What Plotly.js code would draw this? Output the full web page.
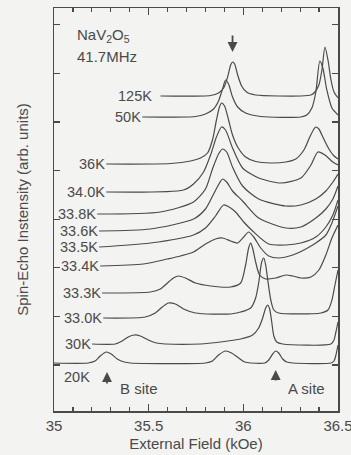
<!DOCTYPE html>
<html>
<head>
<meta charset="utf-8">
<script src="https://cdn.plot.ly/plotly-3.0.1.min.js"></script>
<style>
  html, body { margin: 0; padding: 0; background: #f3f3f1; }
  #chart { width: 351px; height: 455px; }
</style>
</head>
<body>
<div id="chart"></div>
<script>
// NaV2O5 spin-echo spectra at 41.7 MHz, stacked by temperature.
// Each spectrum: external field (kOe) and echo intensity (arb. units) above its own baseline.

const temps = ["125K", "50K", "36K", "34.0K", "33.8K", "33.6K", "33.5K", "33.4K", "33.3K", "33.0K", "30K", "20K"];

// vertical offsets of the baselines (arb. units)
const offsets = [315, 294, 247, 219, 197, 180, 164, 145, 118, 93, 67, 48];

const field125 = [35.562,35.827,35.869,35.896,35.917,35.933,35.943,35.954,35.970,35.991,36.017,36.065,36.304,36.357,36.378,36.399,36.415,36.431,36.447,36.463,36.479,36.500];
const sig125   = [0,0.5,3,8,19,31,34,32,21,10,4,1,0,1,4,11,26,49,36,16,4,-2];

const field50 = [35.466,35.747,35.800,35.843,35.869,35.890,35.906,35.922,35.943,35.970,36.012,36.092,36.304,36.335,36.362,36.383,36.404,36.420,36.441,36.468,36.500];
const sig50   = [0,0.5,3,8,16,28,37,33,20,10,4,0.5,0,2,9,25,56,49,27,9,2];

const field36 = [35.276,35.615,35.721,35.774,35.811,35.837,35.858,35.874,35.885,35.901,35.922,35.943,35.970,36.012,36.065,36.145,36.224,36.277,36.320,36.351,36.373,36.383,36.399,36.420,36.452,36.479,36.500];
const sig36   = [0,0.5,3,6,11,24,44,57,61,58,44,29,17,7,2.5,1,2,5,14,27,35,37,35,27,15,8,5];

const field340 = [35.276,35.684,35.737,35.790,35.827,35.858,35.885,35.906,35.943,35.996,36.081,36.198,36.304,36.357,36.394,36.431,36.473,36.500];
const sig340   = [0,2,8,20,37,55,65,62,44,24,14,9,14,27,40,37,30,27];

const field338 = [35.228,35.562,35.737,35.800,35.837,35.869,35.890,35.912,35.943,35.996,36.081,36.224,36.304,36.383,36.436,36.473,36.500];
const sig338   = [0,2,12,25,45,60,65,62,47,28,15,8,9,15,23,32,40];

const field336 = [35.238,35.509,35.737,35.800,35.843,35.874,35.890,35.912,35.943,35.996,36.081,36.224,36.304,36.383,36.436,36.473,36.500];
const sig336   = [0,2,12,22,37,48,52,49,40,30,13,3,4,13,22,32,45];

const field335 = [35.238,35.509,35.737,35.800,35.853,35.896,35.933,35.959,36.002,36.049,36.134,36.224,36.304,36.383,36.436,36.473,36.500];
const sig335   = [0,4,12,19,31,42,39,35,25,16,3,2,4,10,20,32,47];

const field334 = [35.244,35.472,35.599,35.668,35.737,35.800,35.853,35.890,35.933,35.970,36.002,36.028,36.055,36.092,36.134,36.187,36.261,36.330,36.383,36.436,36.468,36.500];
const sig334   = [0,2,7,10,14,22,27,28,25,23,29,34,29,18,10,8,11,17,23,31,43,60];

const field333 = [35.254,35.509,35.562,35.599,35.631,35.657,35.694,35.747,35.827,35.933,35.986,36.012,36.028,36.039,36.049,36.065,36.086,36.118,36.171,36.224,36.261,36.304,36.357,36.399,36.436,36.468,36.500];
const sig333   = [0,1,4,10,15,17,15,10,7,6,10,28,45,50,45,31,18,14,15,18,17,15,16,23,38,55,68];

const field330 = [35.260,35.482,35.535,35.572,35.604,35.641,35.684,35.747,35.933,35.986,36.039,36.065,36.081,36.097,36.108,36.118,36.129,36.145,36.161,36.187,36.410,36.447,36.468,36.484,36.500];
const sig330   = [0,1,5,11,15,14,9,5,4,6,10,20,35,56,60,53,38,18,8,5,5,8,18,33,48];

const field30 = [35.201,35.323,35.360,35.392,35.424,35.456,35.498,35.541,35.588,35.774,35.880,35.986,36.049,36.081,36.102,36.118,36.129,36.139,36.150,36.161,36.176,36.208,36.463,36.479,36.489,36.500];
const sig30   = [0,0,3,7,9,8,4,1,0,0,2,5,9,16,26,36,39,35,22,8,2,0,0,4,12,22];

const field20 = [35.000,35.180,35.217,35.244,35.276,35.302,35.334,35.371,35.403,35.800,35.837,35.869,35.906,35.938,35.975,36.007,36.039,36.113,36.134,36.155,36.171,36.187,36.208,36.229,36.261,36.463,36.479,36.489,36.500];
const sig20   = [0,0,2,7,11,9,4,1,0,0,2,8,12,10,5,1,0,0,3,9,12,10,4,1,0,0,2,8,18];

const fields  = [field125, field50, field36, field340, field338, field336, field335, field334, field333, field330, field30, field20];
const signals = [sig125, sig50, sig36, sig340, sig338, sig336, sig335, sig334, sig333, sig330, sig30, sig20];

const ink = "#4a4a4a";
const font = "Liberation Sans, Arial, Helvetica, sans-serif";

const traces = temps.map((t, i) => ({
  type: "scatter",
  mode: "lines",
  name: t,
  x: fields[i],
  y: signals[i].map(v => v + offsets[i]),
  line: { color: ink, width: 1.2, shape: "spline", smoothing: 0.7 },
  hoverinfo: "skip"
}));

const annotations = [];

// temperature labels sit at the left end of each baseline (125K keeps a small gap)
temps.forEach((t, i) => {
  if (t === "20K") {
    annotations.push({ x: 35.04, y: offsets[i] - 14, xref: "x", yref: "y", text: t,
      showarrow: false, xanchor: "left", yanchor: "middle", font: { family: font, size: 14.5, color: ink } });
  } else {
    annotations.push({ x: fields[i][0], y: offsets[i], xref: "x", yref: "y", text: t,
      showarrow: false, xanchor: "right", yanchor: "middle", xshift: t === "125K" ? -6 : 1,
      font: { family: font, size: 14.5, color: ink } });
  }
});

annotations.push(
  { x: 35.11, y: 376, xref: "x", yref: "y", text: "NaV<sub>2</sub>O<sub>5</sub>", showarrow: false,
    xanchor: "left", yanchor: "middle", font: { family: font, size: 15, color: ink } },
  { x: 35.11, y: 355, xref: "x", yref: "y", text: "41.7MHz", showarrow: false,
    xanchor: "left", yanchor: "middle", font: { family: font, size: 15, color: ink } },
  { x: 35.943, y: 359, xref: "x", yref: "y", text: "", showarrow: true, ax: 0, ay: -18,
    arrowhead: 2, arrowsize: 1.1, arrowwidth: 1.8, arrowcolor: ink },
  { x: 35.28, y: 39, xref: "x", yref: "y", text: "", showarrow: true, ax: 0, ay: 13,
    arrowhead: 2, arrowsize: 1.1, arrowwidth: 1.8, arrowcolor: ink },
  { x: 36.171, y: 41, xref: "x", yref: "y", text: "", showarrow: true, ax: 0, ay: 12,
    arrowhead: 2, arrowsize: 1.1, arrowwidth: 1.8, arrowcolor: ink },
  { x: 35.34, y: 23, xref: "x", yref: "y", text: "B site", showarrow: false,
    xanchor: "left", yanchor: "middle", font: { family: font, size: 15, color: ink } },
  { x: 36.224, y: 23, xref: "x", yref: "y", text: "A site", showarrow: false,
    xanchor: "left", yanchor: "middle", font: { family: font, size: 15, color: ink } }
);

const layout = {
  width: 351,
  height: 455,
  margin: { l: 54, r: 13, t: 8, b: 44 },
  paper_bgcolor: "#f3f3f1",
  plot_bgcolor: "#f3f3f1",
  showlegend: false,
  font: { family: font, size: 15, color: ink },
  xaxis: {
    range: [35, 36.5],
    tickvals: [35, 35.5, 36, 36.5],
    ticktext: ["35", "35.5", "36", "36.5"],
    ticklabeloverflow: "allow",
    ticks: "inside",
    ticklen: 7,
    tickwidth: 1.3,
    tickcolor: ink,
    minor: { dtick: 0.1, ticks: "inside", ticklen: 4, tickwidth: 1.2, tickcolor: ink },
    mirror: "allticks",
    showline: true,
    linecolor: ink,
    linewidth: 1.5,
    showgrid: false,
    zeroline: false,
    tickfont: { family: font, size: 15, color: ink },
    title: { text: "External Field (kOe)", font: { family: font, size: 15, color: ink }, standoff: 6 }
  },
  yaxis: {
    range: [0, 403],
    tickmode: "linear",
    tick0: 46,
    dtick: 48.6,
    ticks: "inside",
    ticklen: 6,
    tickwidth: 1.3,
    tickcolor: ink,
    showticklabels: false,
    mirror: "allticks",
    showline: true,
    linecolor: ink,
    linewidth: 1.5,
    showgrid: false,
    zeroline: false,
    title: { text: "Spin-Echo Instensity (arb. units)", font: { family: font, size: 15, color: ink }, standoff: 20 }
  },
  annotations: annotations
};

Plotly.newPlot("chart", traces, layout, { displayModeBar: false, staticPlot: true });
</script>
</body>
</html>
